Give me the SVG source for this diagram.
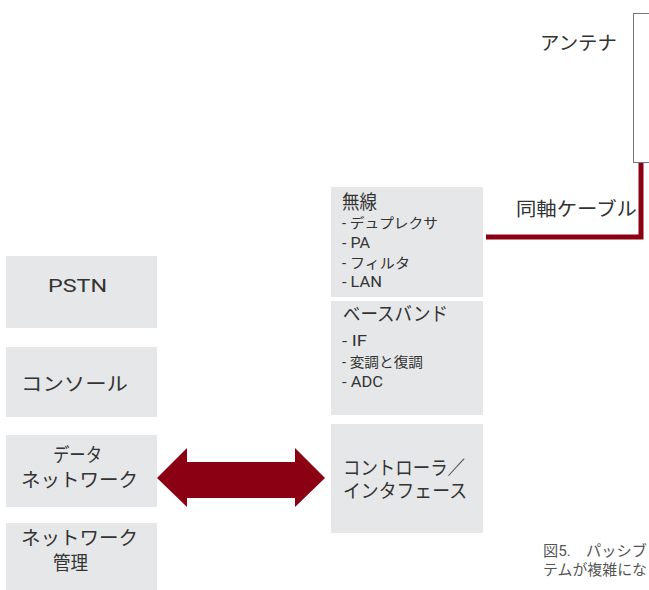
<svg xmlns="http://www.w3.org/2000/svg" width="649" height="590" viewBox="0 0 649 590">
<style>
.box{fill:#e6e7e8}
.t{font-family:Roboto,"Noto Sans CJK JP",sans-serif;fill:#333;font-size:19px}
.s{font-size:14px}
.cap{font-family:Roboto,"Noto Sans CJK JP",sans-serif;fill:#555;font-size:15px}
</style>
<rect width="649" height="590" fill="#fff"/>
<g id="antenna">
<rect x="633.5" y="13.5" width="20" height="149" fill="#fff" stroke="#777" stroke-width="1"/>
<text class="t" x="540" y="50" textLength="77" lengthAdjust="spacingAndGlyphs">アンテナ</text>
</g>
<g id="connectors">
<polyline points="486,237 641,237 641,163" fill="none" stroke="#8b0012" stroke-width="5"/>
<text class="t" x="516" y="216" font-size="19.5" textLength="121" lengthAdjust="spacingAndGlyphs">同軸ケーブル</text>
<polygon points="157,478 187,448 187,462 295,462 295,448 325,478 295,507 295,498 187,498 187,507" fill="#8b0012"/>
</g>
<g id="pstn"><rect class="box" x="6" y="256" width="151" height="72"/><text class="t" x="48" y="291.5" font-size="18.5" textLength="59" lengthAdjust="spacingAndGlyphs">PSTN</text></g>
<g id="console"><rect class="box" x="6" y="347" width="151" height="70"/><text class="t" x="21" y="391" textLength="107" lengthAdjust="spacingAndGlyphs">コンソール</text></g>
<g id="datanet"><rect class="box" x="6" y="435" width="151" height="72"/><text class="t" x="53" y="462" textLength="49" lengthAdjust="spacingAndGlyphs">データ</text><text class="t" x="21" y="487" textLength="117" lengthAdjust="spacingAndGlyphs">ネットワーク</text></g>
<g id="netmgmt"><rect class="box" x="6" y="523" width="151" height="70"/><text class="t" x="21" y="545" textLength="117" lengthAdjust="spacingAndGlyphs">ネットワーク</text><text class="t" x="53" y="570" textLength="35" lengthAdjust="spacingAndGlyphs">管理</text></g>
<g id="wireless"><rect class="box" x="331" y="187" width="152" height="110"/>
<text class="t" x="342" y="209" font-size="16.5" textLength="35" lengthAdjust="spacingAndGlyphs">無線</text>
<text class="t s" x="342" y="228" textLength="96" lengthAdjust="spacingAndGlyphs">- デュプレクサ</text>
<text class="t s" x="342" y="248" textLength="28" lengthAdjust="spacingAndGlyphs">- PA</text>
<text class="t s" x="342" y="268" textLength="68" lengthAdjust="spacingAndGlyphs">- フィルタ</text>
<text class="t s" x="342" y="287" textLength="40" lengthAdjust="spacingAndGlyphs">- LAN</text>
</g>
<g id="baseband"><rect class="box" x="331" y="301" width="152" height="114"/>
<text class="t" x="343" y="321" font-size="18" textLength="105" lengthAdjust="spacingAndGlyphs">ベースバンド</text>
<text class="t s" x="342" y="346" textLength="25" lengthAdjust="spacingAndGlyphs">- IF</text>
<text class="t s" x="342" y="367" textLength="81" lengthAdjust="spacingAndGlyphs">- 変調と復調</text>
<text class="t s" x="342" y="387" textLength="41" lengthAdjust="spacingAndGlyphs">- ADC</text>
</g>
<g id="controller"><rect class="box" x="331" y="424" width="152" height="109"/>
<text class="t" x="343" y="474.5" font-size="18" textLength="122" lengthAdjust="spacingAndGlyphs">コントローラ／</text>
<text class="t" x="343" y="497.5" font-size="18" textLength="124" lengthAdjust="spacingAndGlyphs">インタフェース</text>
</g>
<g id="caption">
<text class="cap" x="543" y="556" textLength="104" lengthAdjust="spacingAndGlyphs">図5.　パッシブ</text>
<text class="cap" x="543" y="575" textLength="104" lengthAdjust="spacingAndGlyphs">テムが複雑にな</text>
</g>
</svg>
